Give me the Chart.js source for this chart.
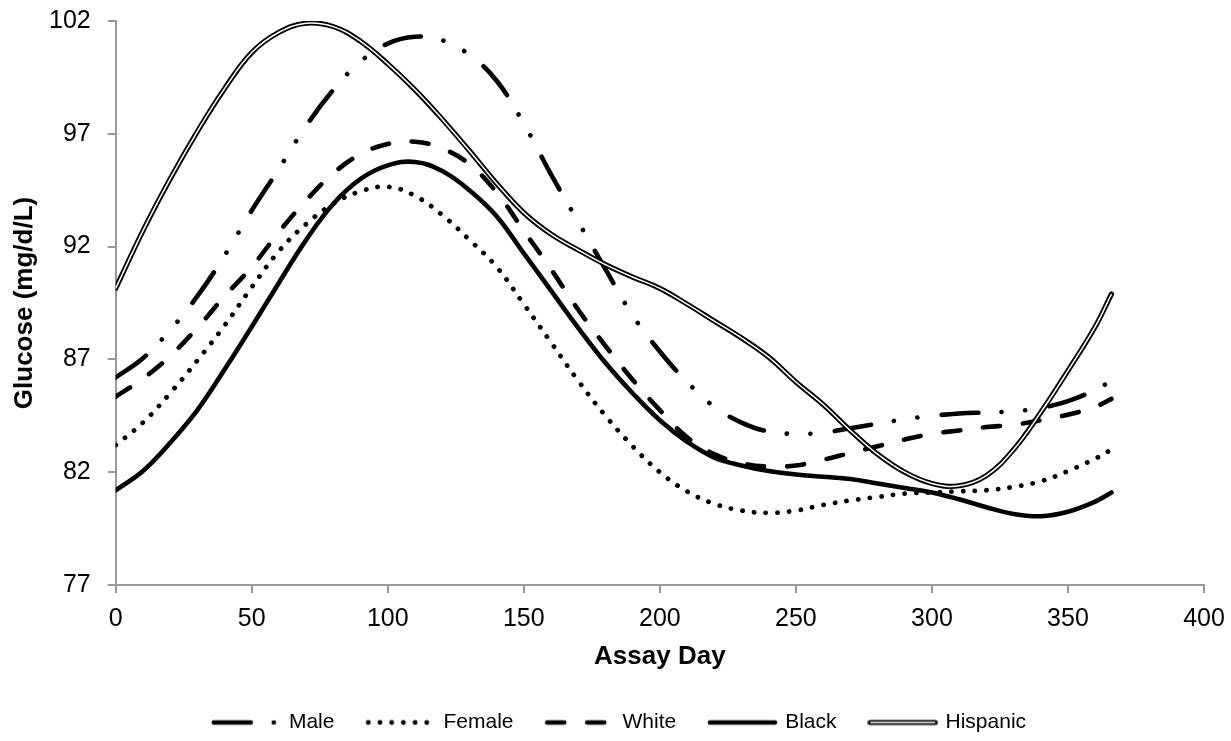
<!DOCTYPE html>
<html>
<head>
<meta charset="utf-8">
<title>Glucose by assay day</title>
<script src="https://cdn.jsdelivr.net/npm/chart.js@4.4.1/dist/chart.umd.min.js"></script>
<style>
  html, body { margin: 0; padding: 0; background: #fff; }
  #wrap { width: 1231px; height: 741px; }
</style>
</head>
<body>
<div id="wrap"><canvas id="chart" width="1231" height="741"></canvas></div>
<script>
// Data (assay day -> glucose, mg/d/L)
const days = [0, 10, 20, 30, 40, 50, 60, 70, 80, 90, 100, 110, 120, 130, 140, 150, 160, 170, 180,
  190, 200, 210, 220, 230, 240, 250, 260, 270, 280, 290, 300, 310, 320, 330, 340, 350, 360, 366];

const male = [86.2, 87.05, 88.3, 89.8, 91.6, 93.6, 95.45, 97.35, 98.95, 100.2, 101.0, 101.3, 101.15,
  100.5, 99.35, 97.45, 95.2, 93.1, 91.0, 88.95, 87.35, 86.0, 84.9, 84.2, 83.8, 83.7, 83.75, 83.95,
  84.15, 84.35, 84.5, 84.6, 84.65, 84.7, 84.85, 85.15, 85.65, 86.05];

const female = [83.2, 84.2, 85.5, 86.95, 88.5, 90.2, 91.8, 93.0, 93.9, 94.45, 94.65, 94.25, 93.4,
  92.3, 91.1, 89.45, 87.75, 86.05, 84.5, 83.15, 82.0, 81.15, 80.6, 80.3, 80.2, 80.3, 80.55, 80.75,
  80.9, 81.05, 81.1, 81.15, 81.2, 81.35, 81.6, 82.05, 82.6, 83.0];

const white = [85.35, 86.15, 87.15, 88.4, 89.8, 91.1, 92.65, 94.05, 95.25, 96.1, 96.55, 96.65, 96.35,
  95.65, 94.4, 92.7, 91.0, 89.2, 87.6, 86.1, 84.75, 83.55, 82.8, 82.4, 82.25, 82.3, 82.55, 82.85,
  83.15, 83.45, 83.7, 83.85, 84.0, 84.1, 84.3, 84.55, 84.9, 85.25];

const black = [81.2, 82.05, 83.3, 84.75, 86.55, 88.45, 90.4, 92.3, 93.9, 95.0, 95.6, 95.75, 95.35,
  94.5, 93.35, 91.7, 90.05, 88.4, 86.85, 85.5, 84.3, 83.35, 82.65, 82.3, 82.05, 81.9, 81.8, 81.7,
  81.5, 81.3, 81.1, 80.8, 80.45, 80.15, 80.05, 80.25, 80.7, 81.1];

const hispanic = [90.15, 92.7, 95.0, 97.1, 99.0, 100.6, 101.5, 101.9, 101.75, 101.1, 100.1, 98.95,
  97.65, 96.25, 94.8, 93.5, 92.55, 91.85, 91.2, 90.65, 90.15, 89.45, 88.7, 87.95, 87.1, 86.0, 85.0,
  83.85, 82.8, 82.0, 81.5, 81.4, 81.85, 83.0, 84.65, 86.5, 88.45, 89.9];

const xTickValues = [0, 50, 100, 150, 200, 250, 300, 350, 400];
const yTickValues = [77, 82, 87, 92, 97, 102];

const FONT = "'Liberation Sans', Arial, Helvetica, sans-serif";
const axisGray = '#999999';

const toPoints = ys => days.map((d, i) => ({ x: d, y: ys[i] }));

function lineSet(label, ys, dash, width, order) {
  return {
    label,
    data: toPoints(ys),
    borderColor: '#000',
    backgroundColor: '#000',
    borderWidth: width,
    borderDash: dash,
    borderCapStyle: 'round',
    borderJoinStyle: 'round',
    pointRadius: 0,
    pointHoverRadius: 0,
    tension: 0.4,
    fill: false,
    order
  };
}

const datasets = [
  lineSet('Male', male, [37, 23, 0.1, 23.5, 0.1, 24.4], 4.6, 5),
  lineSet('Female', female, [0.1, 11.6], 4.8, 4),
  lineSet('White', white, [17, 23], 4.6, 3),
  lineSet('Black', black, [], 4.6, 2),
  lineSet('Hispanic', hispanic, [], 5.2, 1),
  // white core that turns the Hispanic line into a double line
  Object.assign(lineSet('', hispanic, [], 1.5, 0), { borderColor: '#fff', borderCapStyle: 'butt' })
];

// small canvas swatch for each legend entry
function legendIcon(ds, isDouble) {
  const c = document.createElement('canvas');
  c.width = 71; c.height = 10;
  const g = c.getContext('2d');
  g.strokeStyle = '#000';
  g.lineWidth = ds.borderWidth;
  g.lineCap = 'round';
  g.setLineDash(ds.borderDash);
  g.beginPath(); g.moveTo(3, 5); g.lineTo(68, 5); g.stroke();
  if (isDouble) {
    g.setLineDash([]);
    g.strokeStyle = '#fff';
    g.lineWidth = 1.5;
    g.lineCap = 'butt';
    g.beginPath(); g.moveTo(3, 5); g.lineTo(68, 5); g.stroke();
  }
  return c;
}

// nudge legend to where it sits in the original
const legendNudge = {
  id: 'legendNudge',
  afterLayout(chart) {
    const lg = chart.legend;
    lg.left += 18; lg.right += 18;
    lg.top += 2; lg.bottom += 2;
  }
};

// keep only the half-label overhang, not the tick padding, around the plot
const trimY = scale => { scale.paddingTop = 15; scale.paddingBottom = 15; };
const trimX = scale => { scale.paddingLeft = 7; scale.paddingRight = 21; };

new Chart(document.getElementById('chart'), {
  type: 'line',
  data: { datasets },
  options: {
    responsive: false,
    animation: false,
    events: [],
    layout: { padding: { left: 0, right: 27, top: 21, bottom: 0 } },
    plugins: {
      tooltip: { enabled: false },
      legend: {
        position: 'bottom',
        labels: {
          usePointStyle: true,
          pointStyleWidth: 64.5,
          padding: 34,
          color: '#000',
          font: { family: FONT, size: 21 },
          filter: item => item.text !== '',
          sort: (a, b) => a.datasetIndex - b.datasetIndex,
          generateLabels(chart) {
            const items = Chart.defaults.plugins.legend.labels.generateLabels(chart);
            items.forEach(it => {
              const ds = chart.data.datasets[it.datasetIndex];
              it.pointStyle = legendIcon(ds, ds.label === 'Hispanic');
            });
            return items;
          }
        }
      }
    },
    scales: {
      x: {
        type: 'linear',
        min: 0,
        max: 400,
        afterBuildTicks: axis => { axis.ticks = xTickValues.map(v => ({ value: v })); },
        afterFit: trimX,
        grid: { drawOnChartArea: false, drawTicks: true, tickLength: 8, color: axisGray, lineWidth: 2 },
        border: { display: true, color: axisGray, width: 2 },
        ticks: { color: '#000', font: { family: FONT, size: 25 }, padding: 11, maxRotation: 0, autoSkip: false },
        title: {
          display: true, text: 'Assay Day', color: '#000',
          font: { family: FONT, size: 26, weight: 'bold' },
          padding: { top: -3.6, bottom: 3.4 }
        }
      },
      y: {
        min: 77,
        max: 102,
        afterBuildTicks: axis => { axis.ticks = yTickValues.map(v => ({ value: v })); },
        afterFit: trimY,
        grid: { drawOnChartArea: false, drawTicks: true, tickLength: 8, color: axisGray, lineWidth: 2 },
        border: { display: true, color: axisGray, width: 2 },
        ticks: { color: '#000', font: { family: FONT, size: 25 }, padding: 17 },
        title: {
          display: true, text: 'Glucose (mg/d/L)', color: '#000',
          font: { family: FONT, size: 26, weight: 'bold' },
          padding: { top: 9.4, bottom: -8.6 }
        }
      }
    }
  },
  plugins: [legendNudge]
});
</script>
</body>
</html>
